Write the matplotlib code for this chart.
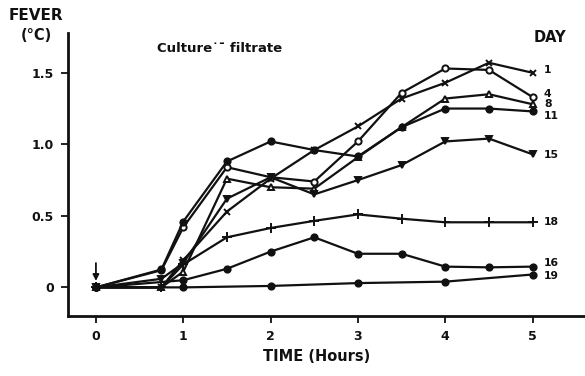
import numpy as np
import matplotlib.pyplot as plt

plt.rcParams['font.family'] = 'DejaVu Sans'
plt.rcParams['font.weight'] = 'bold'

# hours after injection and fever (deg C) per day of culture
t_full = [0, 0.75, 1, 1.5, 2, 2.5, 3, 3.5, 4, 4.5, 5]
day1 = [0, 0.0, 0.19, 0.53, 0.76, 0.96, 1.125, 1.32, 1.43, 1.57, 1.50]
day4 = [0, 0.12, 0.42, 0.84, 0.77, 0.74, 1.02, 1.36, 1.53, 1.52, 1.33]
day8 = [0, 0.0, 0.11, 0.76, 0.70, 0.69, 0.91, 1.12, 1.32, 1.35, 1.28]
day11 = [0, 0.125, 0.46, 0.88, 1.02, 0.96, 0.915, 1.12, 1.25, 1.25, 1.23]
day15 = [0, 0.06, 0.17, 0.62, 0.77, 0.65, 0.75, 0.855, 1.02, 1.04, 0.93]
day18 = [0, 0.0, 0.16, 0.35, 0.415, 0.465, 0.51, 0.48, 0.455, 0.455, 0.455]
t16 = [0, 1, 1.5, 2, 2.5, 3, 3.5, 4, 4.5, 5]
day16 = [0, 0.05, 0.13, 0.25, 0.35, 0.235, 0.235, 0.145, 0.14, 0.145]
t19 = [0, 1, 2, 3, 4, 5]
day19 = [0, 0.0, 0.01, 0.03, 0.04, 0.09]

series = [
    ('1', t_full, day1, 'x', 'k'),
    ('4', t_full, day4, 'o', 'white'),
    ('8', t_full, day8, '^', 'white'),
    ('11', t_full, day11, 'o', 'k'),
    ('15', t_full, day15, 'v', 'k'),
    ('18', t_full, day18, '+', 'k'),
    ('16', t16, day16, 'o', 'k'),
    ('19', t19, day19, 'o', 'k'),
]
# where the day labels sit at the right end
label_y = {'1': 1.52, '4': 1.35, '8': 1.285, '11': 1.195, '15': 0.925,
           '18': 0.457, '16': 0.172, '19': 0.08}

fig = plt.figure(figsize=(5.85, 3.76), dpi=100)
ax = fig.add_axes([0.1162, 0.1596, 0.8838, 0.7526])

ink = '#111111'
for name, t, v, m, face in series:
    ms = {'x': 4.5, '+': 6.5}.get(m, 4.5)
    ax.plot(t, v, color=ink, lw=1.6, marker=m, ms=ms, mfc=face if face != 'k' else ink,
            mec=ink, mew=1.4)
    ax.text(5.13, label_y[name], name, fontsize=7.8, fontweight='bold',
            va='center', ha='left', color=ink)

ax.annotate('', xy=(0, 0.045), xytext=(0, 0.17),
            arrowprops=dict(arrowstyle='-|>', color=ink, lw=1.3, mutation_scale=9,
                            shrinkA=0, shrinkB=0))

ax.set_xlim(-0.32, 5.6)
ax.set_ylim(-0.2, 1.778)
ax.set_xticks([0, 1, 2, 3, 4, 5])
ax.set_xticklabels(['0', '1', '2', '3', '4', '5'])
ax.set_yticks([0, 0.5, 1.0, 1.5])
ax.set_yticklabels(['0', '0.5', '1.0', '1.5'])
ax.tick_params(direction='out', length=5, width=1.3, labelsize=9, colors=ink, pad=5)
for s in ['top', 'right']:
    ax.spines[s].set_visible(False)
for s in ['left', 'bottom']:
    ax.spines[s].set_linewidth(2)
    ax.spines[s].set_color(ink)

ax.set_xlabel('TIME (Hours)', fontsize=10.5, fontweight='bold', color=ink)
ax.xaxis.set_label_coords(0.48, -0.115)
fig.text(0.062, 0.958, 'FEVER', fontsize=11, fontweight='bold', ha='center', va='center', color=ink)
fig.text(0.062, 0.905, '(\u00b0C)', fontsize=10.5, fontweight='bold', ha='center', va='center', color=ink)
fig.text(0.376, 0.872, 'Culture\u02d9\u02c9 filtrate', fontsize=9.5, fontweight='bold',
         ha='center', va='center', color=ink)
fig.text(0.94, 0.9, 'DAY', fontsize=10.5, fontweight='bold', ha='center', va='center', color=ink)

fig.savefig('out.png', dpi=100)
